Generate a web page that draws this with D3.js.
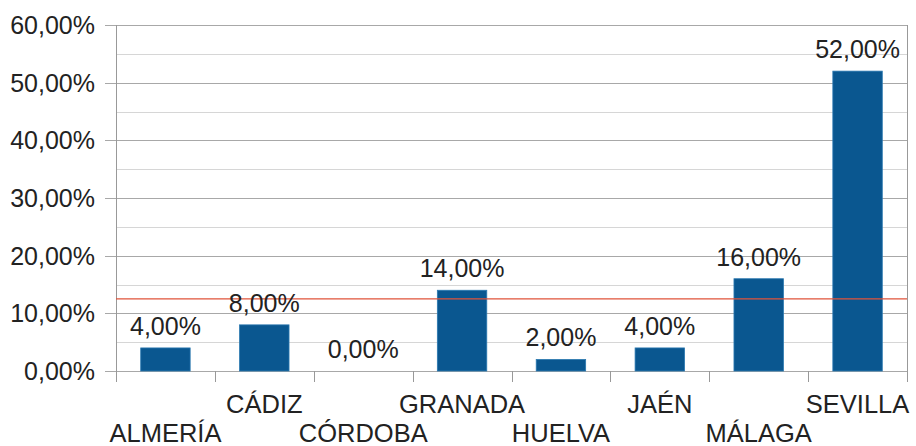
<!DOCTYPE html>
<html>
<head>
<meta charset="utf-8">
<script src="https://cdn.jsdelivr.net/npm/d3@7"></script>
<style>
body { margin:0; background:#fff; }
svg text { font-family: "Liberation Sans", Arial, sans-serif; fill:#222; }
</style>
</head>
<body>
<div id="chart"></div>
<script>
// data
var provincias = ["ALMERÍA","CÁDIZ","CÓRDOBA","GRANADA","HUELVA","JAÉN","MÁLAGA","SEVILLA"];
var porcentajes = [4, 8, 0, 14, 2, 4, 16, 52];
var media = 12.5;   // red reference line
var yTicks = [0, 10, 20, 30, 40, 50, 60];
var yMinor = [5, 15, 25, 35, 45, 55];

var width = 916, height = 446;
var pLeft = 116, pRight = 907, pTop = 25, pBottom = 371;

var svg = d3.select("#chart").append("svg")
	.attr("width", width).attr("height", height);

var x = d3.scaleBand().domain(provincias).range([pLeft, pRight])
	.paddingInner(0.5).paddingOuter(0.25);
var y = d3.scaleLinear().domain([0, 60]).range([pBottom, pTop]);

var fmt = function(v) { return v.toFixed(2).replace(".", ",") + "%"; };

// minor grid
svg.selectAll(".minor").data(yMinor).enter().append("line")
	.attr("x1", pLeft).attr("x2", pRight)
	.attr("y1", function(d) { return Math.round(y(d)) + 0.5; })
	.attr("y2", function(d) { return Math.round(y(d)) + 0.5; })
	.attr("stroke", "#d6d6d6").attr("stroke-width", 1);

// major grid + tick stubs
svg.selectAll(".major").data(yTicks).enter().append("line")
	.attr("x1", pLeft - 11).attr("x2", pRight)
	.attr("y1", function(d) { return Math.round(y(d)) + 0.5; })
	.attr("y2", function(d) { return Math.round(y(d)) + 0.5; })
	.attr("stroke", "#a8a8a8").attr("stroke-width", 1);

// y labels
svg.selectAll(".ylab").data(yTicks).enter().append("text")
	.attr("x", 95).attr("y", function(d) { return y(d); })
	.attr("dy", "0.36em")
	.attr("text-anchor", "end")
	.style("font-size", "25px")
	.text(fmt);

// axis lines / frame
svg.append("line").attr("x1", pLeft + 0.5).attr("x2", pLeft + 0.5)
	.attr("y1", pTop).attr("y2", pBottom + 11)
	.attr("stroke", "#999");
svg.append("line").attr("x1", pRight + 0.5).attr("x2", pRight + 0.5)
	.attr("y1", pTop).attr("y2", pBottom + 11)
	.attr("stroke", "#999");

// x ticks between categories
var step = x.step();
var xt = d3.range(1, provincias.length).map(function(i) { return pLeft + i * step; });
svg.selectAll(".xt").data(xt).enter().append("line")
	.attr("x1", function(d) { return Math.round(d) + 0.5; })
	.attr("x2", function(d) { return Math.round(d) + 0.5; })
	.attr("y1", pBottom).attr("y2", pBottom + 11)
	.attr("stroke", "#999");

// bars
svg.selectAll(".bar").data(porcentajes).enter().append("rect")
	.attr("x", function(d, i) { return x(provincias[i]); })
	.attr("y", function(d) { return y(d); })
	.attr("width", x.bandwidth())
	.attr("height", function(d) { return pBottom - y(d); })
	.attr("fill", "#0a5790")
	.attr("stroke", "#2a78b0").attr("stroke-width", 0.8);

// average line
svg.append("line")
	.attr("x1", pLeft).attr("x2", pRight)
	.attr("y1", y(media)).attr("y2", y(media))
	.attr("stroke", "#e0533a").attr("stroke-width", 1.2);

// value labels
svg.selectAll(".val").data(porcentajes).enter().append("text")
	.attr("x", function(d, i) { return x(provincias[i]) + x.bandwidth() / 2; })
	.attr("y", function(d) { return y(d) - 13; })
	.attr("text-anchor", "middle")
	.style("font-size", "25px")
	.text(fmt);

// category labels, staggered
svg.selectAll(".cat").data(provincias).enter().append("text")
	.attr("x", function(d) { return x(d) + x.bandwidth() / 2; })
	.attr("y", function(d, i) { return i % 2 ? 413 : 442; })
	.attr("text-anchor", "middle")
	.style("font-size", "25.5px")
	.text(function(d) { return d; });
</script>
</body>
</html>
